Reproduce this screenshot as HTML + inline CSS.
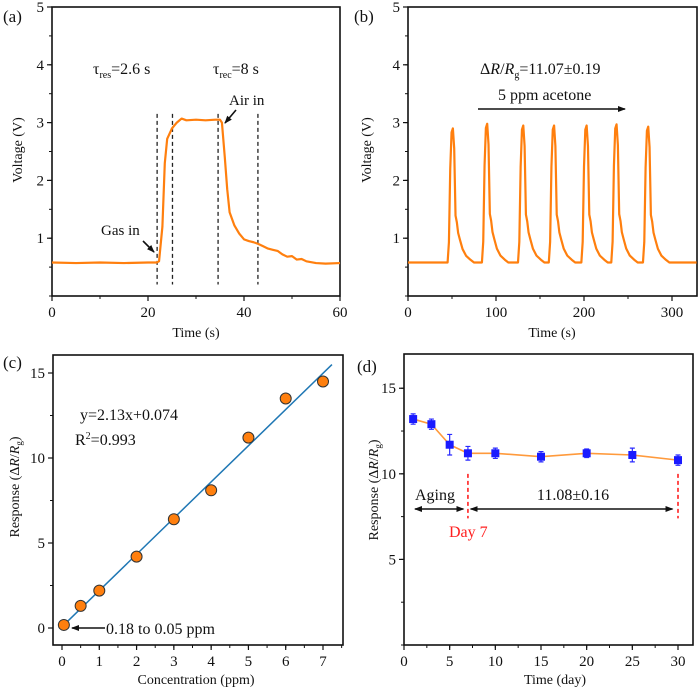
<!DOCTYPE html>
<html><head><meta charset="utf-8"><style>
body{margin:0;background:#fff}
svg text{font-family:"Liberation Serif","DejaVu Serif",serif;fill:#111}
</style></head><body>
<svg id="fig" width="700" height="693" viewBox="0 0 700 693" xmlns="http://www.w3.org/2000/svg" font-family="Liberation Serif, serif">
<defs>
<marker id="ah" markerWidth="8" markerHeight="8" refX="7" refY="4" orient="auto" markerUnits="userSpaceOnUse"><path d="M0,1 L8,4 L0,7 Z" fill="#111"/></marker>
<marker id="ahs" markerWidth="8" markerHeight="8" refX="1" refY="4" orient="auto" markerUnits="userSpaceOnUse"><path d="M8,1 L0,4 L8,7 Z" fill="#111"/></marker>
</defs>
</svg>
<script>
// ---------- Panel (a) data ----------
const aTime=[0,5,10,15,20,21.8,22.3,23,23.5,24,25,26,27,28,30,32,34,35,35.4,36,36.5,37,38,39,40,41,42,43,44,45,46,47,48,49,50,51,52,53,55,57,60];
const aVolt=[0.58,0.57,0.58,0.57,0.58,0.58,0.6,1.2,2.3,2.72,2.9,3.0,3.07,3.04,3.05,3.04,3.05,3.05,3.0,2.4,1.85,1.45,1.22,1.08,0.98,0.95,0.93,0.9,0.86,0.82,0.8,0.78,0.72,0.68,0.69,0.63,0.64,0.6,0.57,0.56,0.57];
const aDash=[21.9,25.1,34.6,42.9];
const aXTicks=[0,20,40,60];
const aYTicks=[1,2,3,4,5];
// ---------- Panel (b) data ----------
const bPeakTimes=[51,90,131,166,203,237,273];
const bPeakHeights=[2.9,2.98,2.95,2.95,2.95,2.97,2.93];
const bPulseOffsets=[-6,-4.5,-3,-1.5,0,1.5,3,4.5,6,8,11,15,20,24];
const bPulseFractions=[0,0.15,0.7,0.97,1,0.85,0.35,0.3,0.22,0.17,0.1,0.05,0.02,0];
const bBaseline=0.58;
const bXTicks=[0,100,200,300];
const bYTicks=[1,2,3,4,5];
// ---------- Panel (c) data ----------
const cConc=[0.05,0.5,1,2,3,4,5,6,7];
const cResp=[0.18,1.3,2.2,4.2,6.4,8.1,11.2,13.5,14.5];
const cSlope=2.13, cIntercept=0.074;
const cXTicks=[0,1,2,3,4,5,6,7];
const cYTicks=[0,5,10,15];
// ---------- Panel (d) data ----------
const dDays=[1,3,5,7,10,15,20,25,30];
const dResp=[13.2,12.9,11.7,11.2,11.2,11.0,11.2,11.1,10.8];
const dErr=[0.3,0.3,0.6,0.4,0.3,0.3,0.25,0.4,0.3];
const dXTicks=[0,5,10,15,20,25,30];
const dYTicks=[5,10,15];

const NS="http://www.w3.org/2000/svg";
const svg=document.getElementById('fig');
function mk(tag,attrs,parent){const e=document.createElementNS(NS,tag);for(const k in attrs)e.setAttribute(k,attrs[k]);(parent||svg).appendChild(e);return e;}
function txt(x,y,s,size,anchor,parent){const t=mk('text',{x:x,y:y,'font-size':size,'text-anchor':anchor||'start'},parent);t.textContent=s;return t;}
function scale(d0,d1,r0,r1){return v=>r0+(v-d0)*(r1-r0)/(d1-d0);}

function axes(g,L,R,T,B,sx,sy,xt,yt,xMinor,yMinor,xr,yr){
  const frame=mk('rect',{x:L,y:T,width:R-L,height:B-T,fill:'none',stroke:'#111','stroke-width':1.6},g);
  
  
  xt.forEach(v=>{const x=sx(v);mk('line',{x1:x,y1:B,x2:x,y2:B+5,stroke:'#111','stroke-width':1.2},g);
    const t=txt(x,B+21,String(v),15,'middle',g);
    
    });
  for(let v=xr[0];v<=xr[1]+1e-9;v+=xMinor){const x=sx(v);mk('line',{x1:x,y1:B,x2:x,y2:B+3,stroke:'#111','stroke-width':1},g);}
  yt.forEach(v=>{const y=sy(v);mk('line',{x1:L,y1:y,x2:L-5,y2:y,stroke:'#111','stroke-width':1.2},g);
    const t=txt(L-8,y+5,String(v),15,'end',g);
    
    });
  for(let v=yr[0];v<=yr[1]+1e-9;v+=yMinor){const y=sy(v);mk('line',{x1:L,y1:y,x2:L-3,y2:y,stroke:'#111','stroke-width':1},g);}
}
function ytitle(g,x,y,s){const t=mk('text',{x:0,y:0,'font-size':14,'text-anchor':'middle',transform:`translate(${x},${y}) rotate(-90)`},g);t.textContent=s;return t;}

// ===== Panel a =====
const ga=mk('g',{});  
const axa=scale(0,60,52,340), aya=scale(0,5,296,7);
axes(ga,52,340,7,296,axa,aya,aXTicks,aYTicks,10,0.5,[0,60],[0,5]);
aDash.forEach(t=>{const l=mk('line',{x1:axa(t),y1:aya(3.15),x2:axa(t),y2:aya(0.2),stroke:'#222','stroke-width':1.3,'stroke-dasharray':'4,3'},ga);
  
  });
const pa=mk('polyline',{points:aTime.map((t,i)=>axa(t)+','+aya(aVolt[i])).join(' '),fill:'none',stroke:'#ff7f0e','stroke-width':2.2,'stroke-linejoin':'round'},ga);


let t;
t=txt(3,22,'(a)',17,'start',ga);  
t=txt(196,337,'Time (s)',14,'middle',ga);  
t=ytitle(ga,22,150,'Voltage (V)');  
t=mk('text',{x:93,y:74,'font-size':16},ga); t.innerHTML='τ<tspan font-size="10" dy="4">res</tspan><tspan dy="-4">=2.6 s</tspan>';
 
t=mk('text',{x:213,y:74,'font-size':16},ga); t.innerHTML='τ<tspan font-size="10" dy="4">rec</tspan><tspan dy="-4">=8 s</tspan>';
 
t=txt(229,105,'Air in',15,'start',ga);  
mk('line',{x1:236,y1:110,x2:225,y2:123,stroke:'#111','stroke-width':1.6,'marker-end':'url(#ah)'},ga);
t=txt(101,235,'Gas in',15,'start',ga);  
mk('line',{x1:143,y1:241,x2:154,y2:252,stroke:'#111','stroke-width':1.6,'marker-end':'url(#ah)'},ga);

// ===== Panel b =====
const gb=mk('g',{});  
const axb=scale(0,300,408,672), ayb=scale(0,5,296,7);
axes(gb,408,697,7,296,axb,ayb,bXTicks,bYTicks,50,0.5,[0,328],[0,5]);
let bPts=[[0,bBaseline]];
bPeakTimes.forEach((pt,i)=>{bPulseOffsets.forEach((o,j)=>{bPts.push([pt+o,bBaseline+bPulseFractions[j]*(bPeakHeights[i]-bBaseline)]);});});
bPts.push([328,bBaseline]);
const pb=mk('polyline',{points:bPts.map(p=>axb(p[0])+','+ayb(p[1])).join(' '),fill:'none',stroke:'#ff7f0e','stroke-width':2.2,'stroke-linejoin':'round'},gb);


t=txt(354,22,'(b)',17,'start',gb);  
t=txt(552,337,'Time (s)',14,'middle',gb);  
t=ytitle(gb,371,150,'Voltage (V)');  
t=mk('text',{x:480,y:74,'font-size':16},gb); t.innerHTML='Δ<tspan font-style="italic">R</tspan>/<tspan font-style="italic">R</tspan><tspan font-size="10" dy="4">g</tspan><tspan dy="-4">=11.07±0.19</tspan>';
 
t=txt(498,100,'5 ppm acetone',16,'start',gb);  
mk('line',{x1:478,y1:109,x2:625,y2:109,stroke:'#111','stroke-width':1.6,'marker-end':'url(#ah)'},gb);

// ===== Panel c =====
const gc=mk('g',{});  
const axc=scale(0,7,62,323), ayc=scale(0,15,628,373);
axes(gc,53,343,355,645,axc,ayc,cXTicks,cYTicks,0.5,2.5,[0,7.5],[0,15]);
const fl=mk('line',{x1:axc(0.05),y1:ayc(cSlope*0.05+cIntercept),x2:axc(7.24),y2:ayc(cSlope*7.24+cIntercept),stroke:'#1f77b4','stroke-width':1.5},gc);
 
cConc.forEach((c,i)=>{const p=mk('circle',{cx:axc(c),cy:ayc(cResp[i]),r:5.5,fill:'#ff7f0e',stroke:'#333','stroke-width':1},gc);
  
  });
t=txt(3,368,'(c)',17,'start',gc);  
t=txt(196,684,'Concentration (ppm)',14,'middle',gc);  
t=mk('text',{x:0,y:0,'font-size':14,'text-anchor':'middle',transform:'translate(19,487) rotate(-90)'},gc);
t.innerHTML='Response (Δ<tspan font-style="italic">R</tspan>/<tspan font-style="italic">R</tspan><tspan font-size="9" dy="3">g</tspan><tspan dy="-3">)</tspan>';
 
t=txt(80,420,'y=2.13x+0.074',16,'start',gc);  
t=mk('text',{x:75,y:445,'font-size':16},gc); t.innerHTML='R<tspan font-size="10" dy="-6">2</tspan><tspan dy="6">=0.993</tspan>';
 
t=txt(106,634,'0.18 to 0.05 ppm',16,'start',gc);  
mk('line',{x1:105,y1:628,x2:72,y2:628,stroke:'#111','stroke-width':1.4,'marker-end':'url(#ah)'},gc);

// ===== Panel d =====
const gd=mk('g',{});  
const axd=scale(0,30,404,678), ayd=scale(0,17,645,354);
axes(gd,404,693,354,645,axd,ayd,dXTicks,dYTicks,2.5,2.5,[0,32],[0,17]);
const pd=mk('polyline',{points:dDays.map((d,i)=>axd(d)+','+ayd(dResp[i])).join(' '),fill:'none',stroke:'#ff9a3c','stroke-width':1.6},gd);
 
dDays.forEach((d,i)=>{const x=axd(d);
  const e=mk('path',{d:`M${x},${ayd(dResp[i]-dErr[i])}V${ayd(dResp[i]+dErr[i])}M${x-2.5},${ayd(dResp[i]-dErr[i])}h5M${x-2.5},${ayd(dResp[i]+dErr[i])}h5`,stroke:'#2a2aff','stroke-width':1.2,fill:'none'},gd);
  
  
  const m=mk('rect',{x:x-4,y:ayd(dResp[i])-4,width:8,height:8,fill:'#1a1aff'},gd);
  
  });
[7,30].forEach(d=>{const l=mk('line',{x1:axd(d),y1:ayd(10),x2:axd(d),y2:ayd(7.4),stroke:'#ff2020','stroke-width':1.6,'stroke-dasharray':'4,3'},gd);
  
  });
mk('line',{x1:axd(1.2),y1:509,x2:axd(6.5),y2:509,stroke:'#111','stroke-width':1.6,'marker-end':'url(#ah)','marker-start':'url(#ahs)'},gd);
mk('line',{x1:axd(7.3),y1:509,x2:axd(29.4),y2:509,stroke:'#111','stroke-width':1.6,'marker-end':'url(#ah)','marker-start':'url(#ahs)'},gd);
t=txt(357,372,'(d)',17,'start',gd);  
t=txt(555,684,'Time (day)',14,'middle',gd);  
t=mk('text',{x:0,y:0,'font-size':14,'text-anchor':'middle',transform:'translate(378,490) rotate(-90)'},gd);
t.innerHTML='Response (Δ<tspan font-style="italic">R</tspan>/<tspan font-style="italic">R</tspan><tspan font-size="9" dy="3">g</tspan><tspan dy="-3">)</tspan>';
 
t=txt(415,500,'Aging',16,'start',gd);  
t=txt(573,500,'11.08±0.16',16,'middle',gd);  
t=txt(449,537,'Day 7',16,'start',gd); t.style.fill='#ff2020';  
</script>
</body></html>
